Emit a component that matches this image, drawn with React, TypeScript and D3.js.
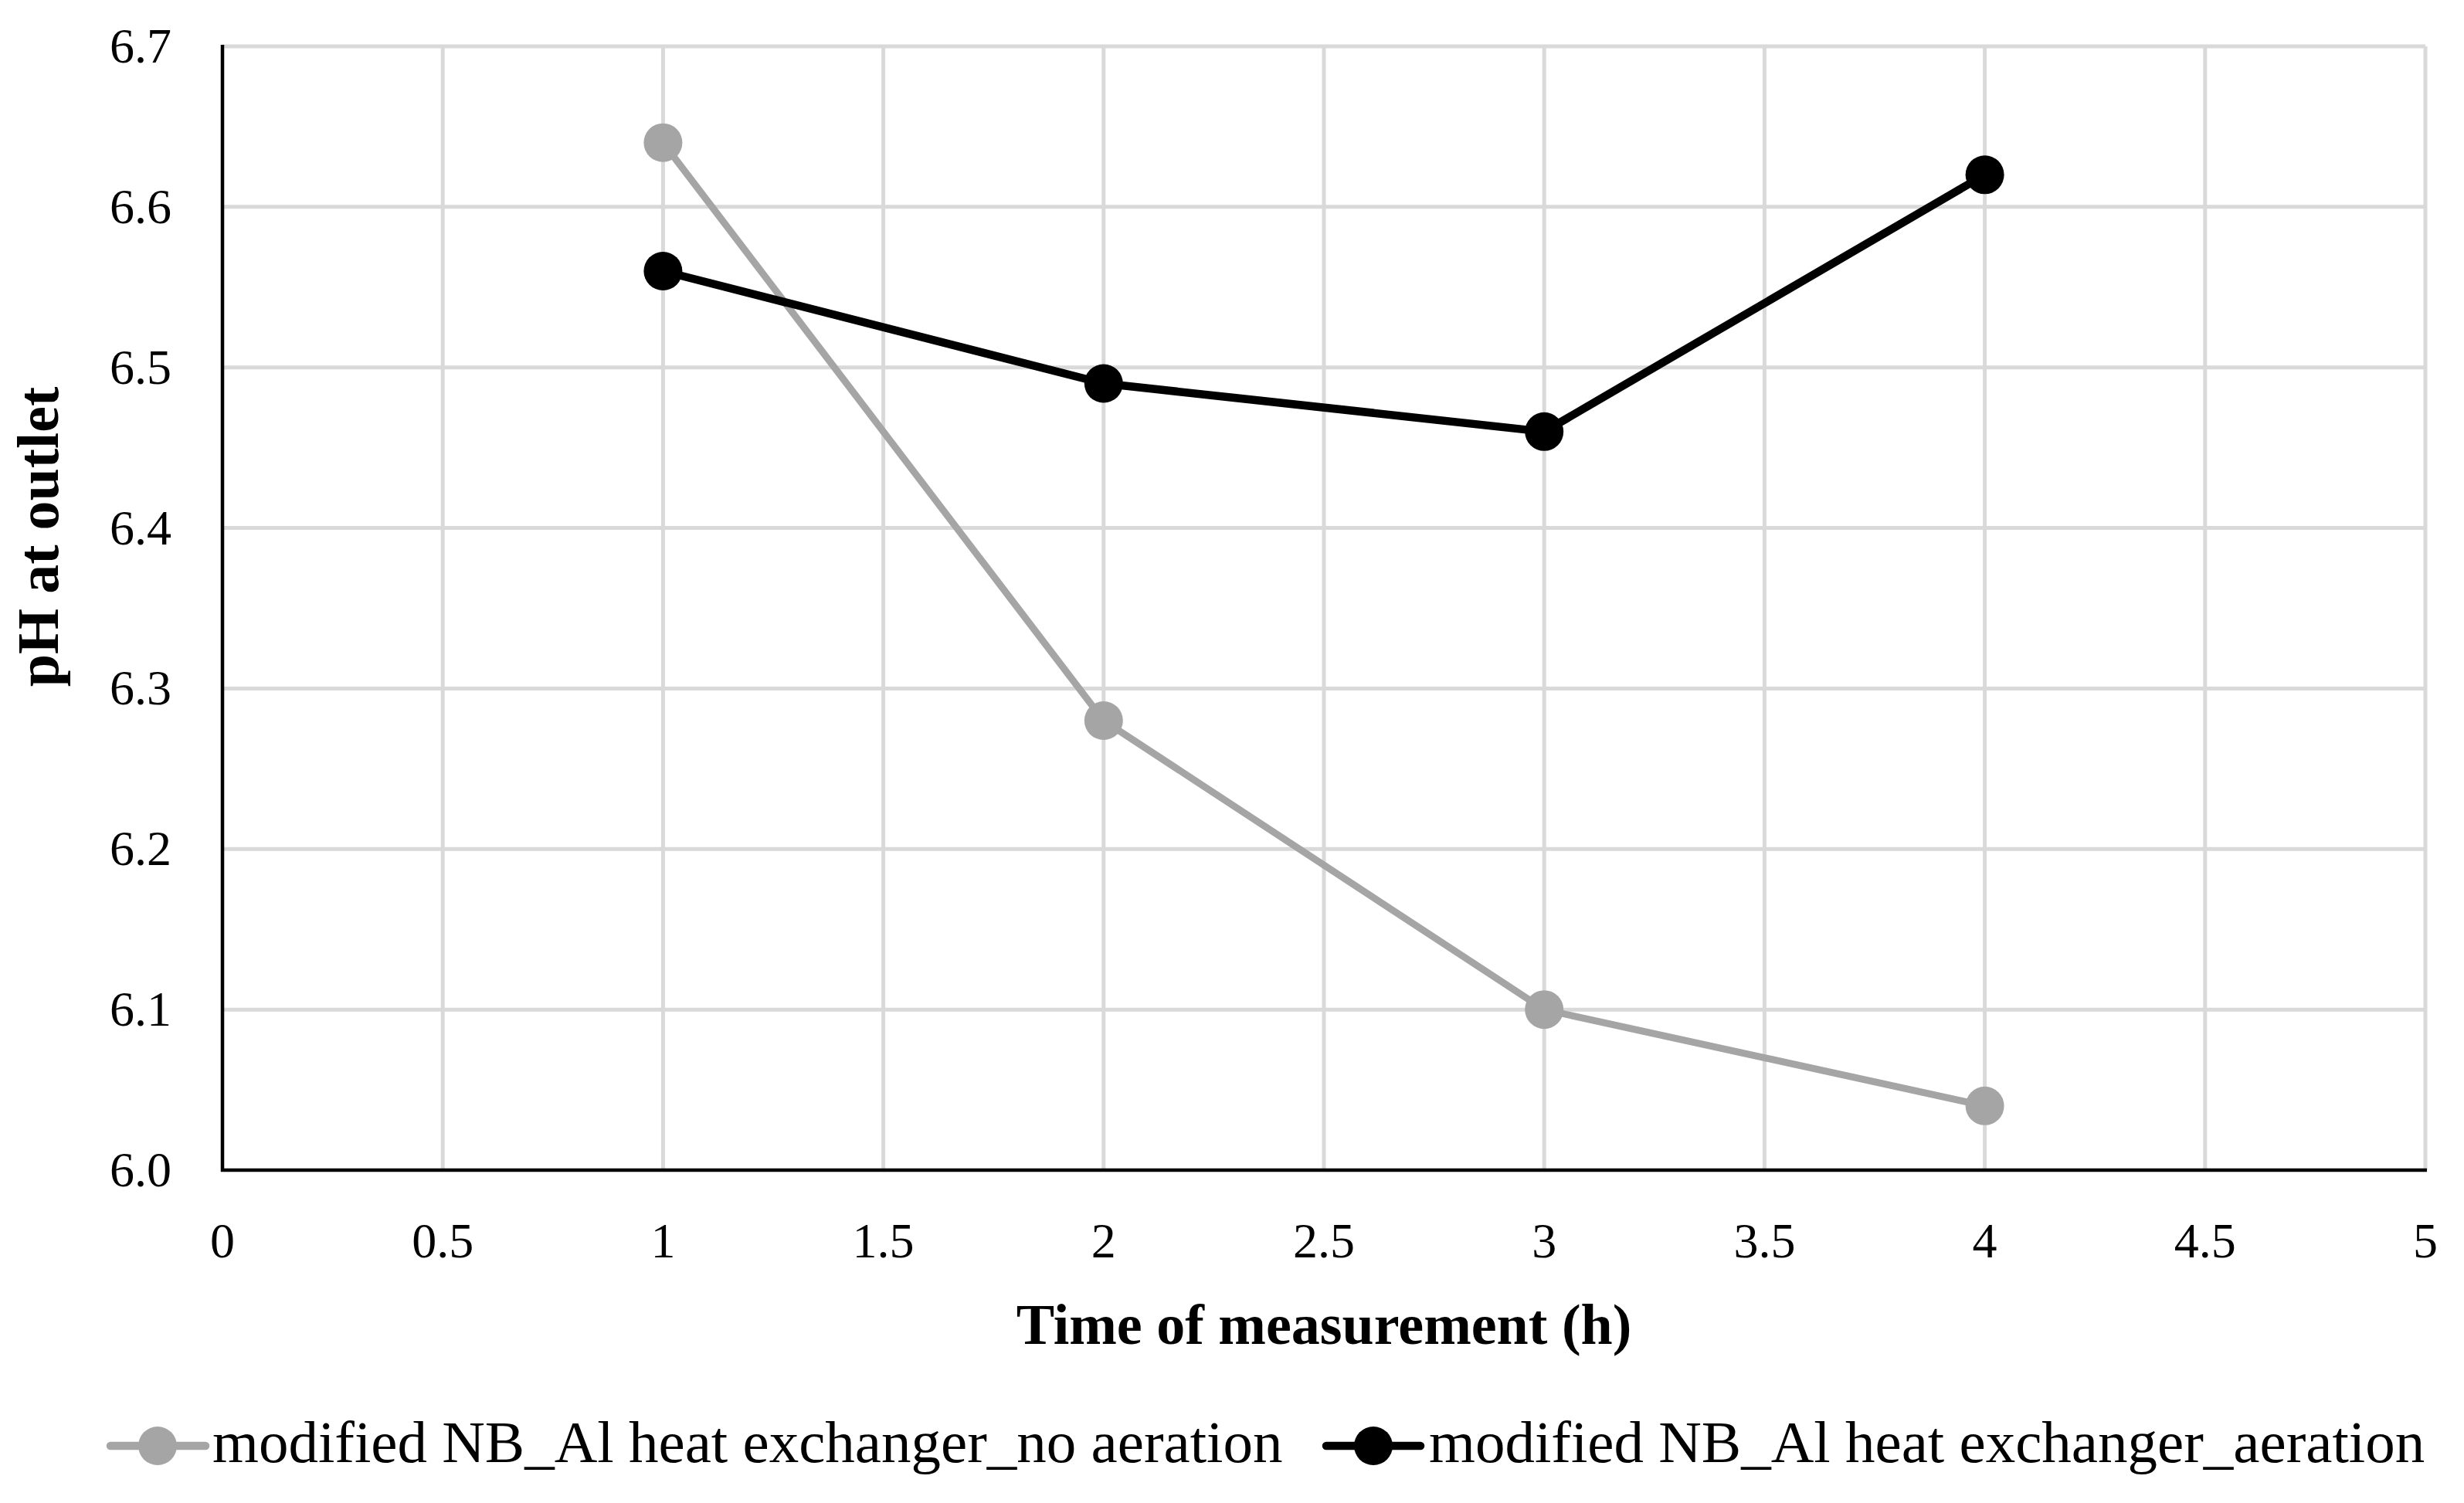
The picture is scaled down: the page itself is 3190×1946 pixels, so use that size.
import React from "react";
import * as d3 from "d3";

const hours = [1, 2, 3, 4];
const noAeration = [6.64, 6.28, 6.1, 6.04];
const aeration = [6.56, 6.49, 6.46, 6.62];
const xTicks = [0, 0.5, 1, 1.5, 2, 2.5, 3, 3.5, 4, 4.5, 5];
const yTicks = [6.0, 6.1, 6.2, 6.3, 6.4, 6.5, 6.6, 6.7];
const seriesNames = [
  "modified NB_Al heat exchanger_no aeration",
  "modified NB_Al heat exchanger_aeration",
];
const xTitle = "Time of measurement (h)";
const yTitle = "pH at outlet";

const W = 3190;
const H = 1946;
const L = 288;
const R = 3140;
const T = 60;
const B = 1515;
const FONT = "'Liberation Serif', 'Times New Roman', serif";
const GRAY = "#a5a5a5";
const GRID = "#d9d9d9";

export default function App() {
  const x = d3.scaleLinear().domain([0, 5]).range([L, R]);
  const y = d3.scaleLinear().domain([6.0, 6.7]).range([B, T]);
  const line = d3
    .line<[number, number]>()
    .x((d) => x(d[0]))
    .y((d) => y(d[1]));
  const fmtY = d3.format(".1f");
  const series = [
    { name: seriesNames[0], values: noAeration, color: GRAY, width: 9 },
    { name: seriesNames[1], values: aeration, color: "#000000", width: 10.5 },
  ];
  const legendPos = [
    { x1: 143, x2: 266, cx: 204, tx: 275 },
    { x1: 1717, x2: 1839, cx: 1778, tx: 1850 },
  ];
  const legendY = 1872;

  return (
    <svg
      width={W}
      height={H}
      viewBox={`0 0 ${W} ${H}`}
      style={{ position: "absolute", left: 0, top: 0, background: "#fff" }}
    >
      <rect x={0} y={0} width={W} height={H} fill="#fff" />
      {/* gridlines */}
      {xTicks.filter((t) => t > 0).map((t) => (
        <line key={"gx" + t} x1={x(t)} x2={x(t)} y1={T} y2={B} stroke={GRID} strokeWidth={5} />
      ))}
      {yTicks.filter((t) => t > 6.0).map((t) => (
        <line key={"gy" + t} x1={L} x2={R} y1={y(t)} y2={y(t)} stroke={GRID} strokeWidth={5} />
      ))}
      {/* axes */}
      <line x1={L} x2={L} y1={T - 2} y2={B + 2} stroke="#000" strokeWidth={4.5} />
      <line x1={L - 2} x2={R + 2} y1={B} y2={B} stroke="#000" strokeWidth={4.5} />
      {/* tick labels */}
      {yTicks.map((t) => (
        <text key={"ty" + t} x={222} y={y(t) + 21} textAnchor="end" fontFamily={FONT} fontSize={64} fill="#000">
          {fmtY(t)}
        </text>
      ))}
      {xTicks.map((t) => (
        <text key={"tx" + t} x={x(t)} y={1628} textAnchor="middle" fontFamily={FONT} fontSize={64} fill="#000">
          {String(t)}
        </text>
      ))}
      {/* axis titles */}
      <text x={(L + R) / 2} y={1740} textAnchor="middle" fontFamily={FONT} fontSize={74} fontWeight="bold" fill="#000">
        {xTitle}
      </text>
      <text
        transform={`translate(75,695) rotate(-90)`}
        textAnchor="middle"
        fontFamily={FONT}
        fontSize={76}
        fontWeight="bold"
        fill="#000"
      >
        {yTitle}
      </text>
      {/* series */}
      {series.map((s) => (
        <g key={s.name}>
          <path
            d={line(hours.map((h, i) => [h, s.values[i]] as [number, number])) || ""}
            fill="none"
            stroke={s.color}
            strokeWidth={s.width}
            strokeLinejoin="round"
          />
          {hours.map((h, i) => (
            <circle key={h} cx={x(h)} cy={y(s.values[i])} r={25} fill={s.color} />
          ))}
        </g>
      ))}
      {/* legend */}
      {series.map((s, i) => {
        const p = legendPos[i];
        return (
          <g key={"lg" + i}>
            <line x1={p.x1} x2={p.x2} y1={legendY} y2={legendY} stroke={s.color} strokeWidth={10.5} strokeLinecap="round" />
            <circle cx={p.cx} cy={legendY} r={25} fill={s.color} />
            <text x={p.tx} y={1893} fontFamily={FONT} fontSize={77} fill="#000">
              {s.name}
            </text>
          </g>
        );
      })}
    </svg>
  );
}
